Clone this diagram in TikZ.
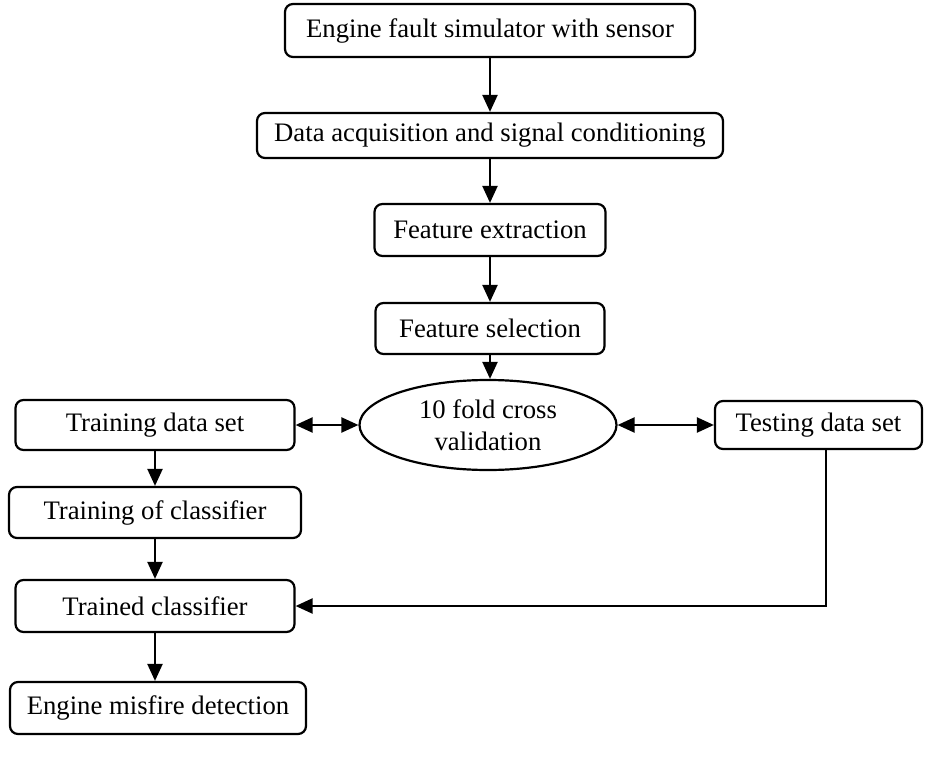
\documentclass[tikz,border=0pt]{standalone}
\usepackage{fontspec}
\setmainfont{Liberation Serif}
\usetikzlibrary{arrows.meta,shapes.geometric,calc}
\begin{document}
\begin{tikzpicture}[x=1pt,y=-1pt,
  box/.style={draw=black,line width=2.2pt,rounded corners=8pt,inner sep=0pt,
    font=\fontsize{26.7}{31}\selectfont,anchor=center},
  ell/.style={draw=black,line width=2.2pt,ellipse,inner sep=0pt,
    font=\fontsize{26.7}{32}\selectfont,align=center,anchor=center},
  arr/.style={line width=2.2pt,-{Triangle[length=17pt,width=15pt]}},
  darr/.style={line width=2.2pt,{Triangle[length=17pt,width=15pt]}-{Triangle[length=17pt,width=15pt]}}]
\useasboundingbox (0,0) rectangle (935,760);
\node[box,minimum width=410pt,minimum height=53pt] (b1) at (490,30.5) {Engine fault simulator with sensor};
\node[box,minimum width=466pt,minimum height=45pt] (b2) at (490,135.5) {Data acquisition and signal conditioning};
\node[box,minimum width=231pt,minimum height=52pt] (b3) at (490,230) {Feature extraction};
\node[box,minimum width=229pt,minimum height=51pt] (b4) at (490,328.5) {Feature selection};
\node[ell,minimum width=257pt,minimum height=90pt] (cv) at (488,425) {10 fold cross\\validation};
\node[box,minimum width=279pt,minimum height=50pt] (tr) at (155,425) {Training data set};
\node[box,minimum width=207pt,minimum height=48pt] (te) at (818.5,425) {Testing data set};
\node[box,minimum width=292pt,minimum height=51pt] (toc) at (155,512.5) {Training of classifier};
\node[box,minimum width=279pt,minimum height=52pt] (tc) at (155,606) {Trained classifier};
\node[box,minimum width=296pt,minimum height=52pt] (emd) at (158,708) {Engine misfire detection};
\coordinate (corner) at (826,606);
\draw[arr] (b1.south) -- (b2.north);
\draw[arr] (b2.south) -- (b3.north);
\draw[arr] (b3.south) -- (b4.north);
\draw[arr] (b4.south) -- (b4.south |- cv.north);
\draw[darr] (tr.east) -- (cv.west);
\draw[darr] (cv.east) -- (te.west);
\draw[arr] (tr.south) -- (toc.north);
\draw[arr] (toc.south) -- (tc.north);
\draw[arr] (tc.south) -- (emd.north -| tc.south);
\draw[arr] (corner |- te.south) -- (corner) -- (tc.east);
\end{tikzpicture}
\end{document}
